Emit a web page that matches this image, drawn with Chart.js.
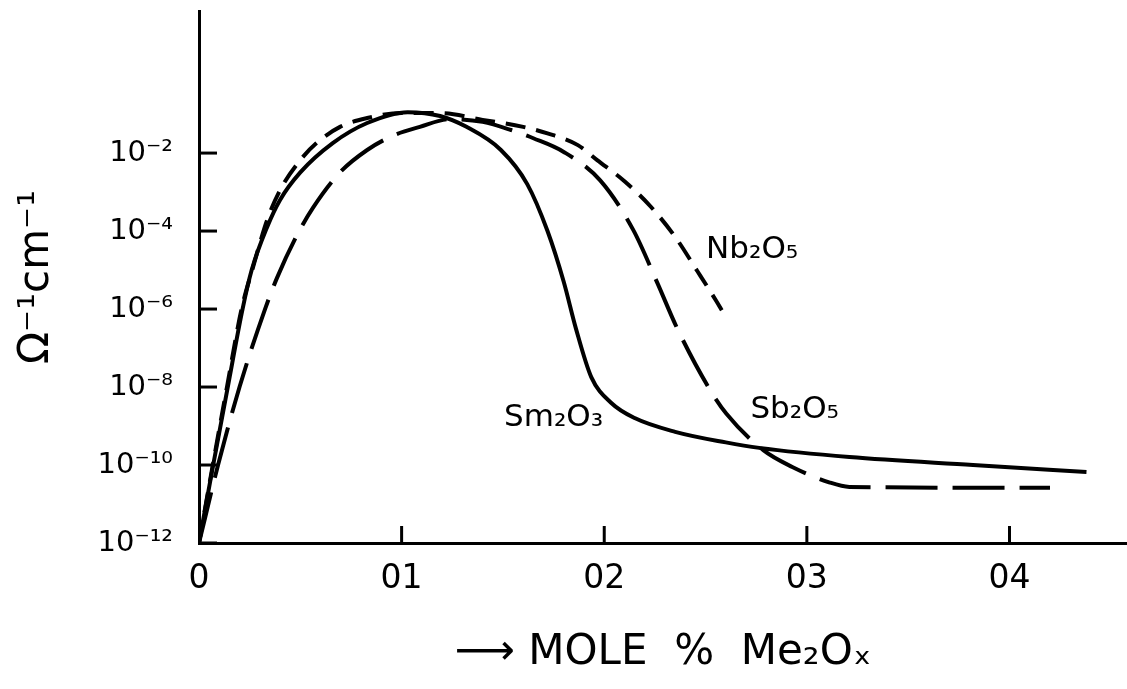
<!DOCTYPE html>
<html>
<head>
<meta charset="utf-8">
<script src="https://cdn.jsdelivr.net/npm/chart.js@4"></script>
<style>
  body { margin: 0; background: #fff; }
  #wrap { width: 1127px; height: 689px; }
</style>
</head>
<body>
<div id="wrap"><canvas id="chart"></canvas></div>
<script>
// axis ticks
const xTickValues = [0, 0.1, 0.2, 0.3, 0.4];
const xTickLabels = ['0', '01', '02', '03', '04'];
const yTickValues = [1e-12, 1e-10, 1e-8, 1e-6, 1e-4, 1e-2];
const yTickLabels = ['10⁻¹²', '10⁻¹⁰', '10⁻⁸', '10⁻⁶', '10⁻⁴', '10⁻²'];

// Sm2O3 (solid)
const smX = [0, 0.007, 0.0142, 0.0215, 0.026, 0.0336, 0.040, 0.050, 0.066, 0.083, 0.103, 0.119, 0.132,
  0.149, 0.162, 0.172, 0.180, 0.186, 0.1936, 0.2035, 0.215, 0.235, 0.260, 0.2765, 0.321, 0.382, 0.438];
const smY = [1e-12, 1e-10, 1e-8, 1e-6, 1.0e-5, 1.26e-4, 6.3e-4, 3.2e-3, 1.8e-2, 5.9e-2, 0.112, 0.089, 0.047,
  0.012, 1.6e-3, 1e-4, 5.0e-6, 3.2e-7, 1.8e-8, 3.9e-9, 1.6e-9, 7.1e-10, 3.8e-10, 2.75e-10, 1.6e-10, 1.0e-10, 6.6e-11];

// Nb2O5 (short dashes)
const nbX = [0, 0.0068, 0.0138, 0.021, 0.0267, 0.0336, 0.040, 0.050, 0.058, 0.0696, 0.083, 0.100, 0.120,
  0.140, 0.160, 0.172, 0.187, 0.1965, 0.210, 0.223, 0.235, 0.246, 0.255, 0.258];
const nbY = [1e-12, 1e-10, 1e-8, 1e-6, 1.2e-5, 1.9e-4, 1.12e-3, 6.6e-3, 1.8e-2, 4.7e-2, 7.9e-2, 0.107, 0.105,
  0.071, 0.047, 0.032, 0.016, 6.6e-3, 1.9e-3, 4.2e-4, 7.1e-5, 9.3e-6, 1.7e-6, 9.3e-7];

// Sb2O5 (long dashes)
const sbX = [0, 0.0094, 0.020, 0.0326, 0.0385, 0.0484, 0.0563, 0.0696, 0.083, 0.0958, 0.109, 0.124, 0.140,
  0.154, 0.165, 0.180, 0.198, 0.2143, 0.2262, 0.236, 0.2523, 0.2602, 0.2785, 0.2928, 0.311, 0.321, 0.42];
const sbY = [1e-12, 1e-10, 1e-8, 1e-6, 6.3e-6, 7.9e-5, 4.0e-4, 3.2e-3, 0.012, 0.028, 0.047, 0.074, 0.063,
  0.039, 0.024, 0.0107, 2.0e-3, 1.07e-4, 4.7e-6, 3.2e-7, 8.3e-9, 2.1e-9, 2.4e-10, 8.9e-11, 3.6e-11, 2.75e-11, 2.6e-11];

// curve labels, in data units
const curveLabels = [
  { text: 'Nb₂O₅', x: 0.273, y: 3.2e-5 },
  { text: 'Sb₂O₅', x: 0.294, y: 2.6e-9 },
  { text: 'Sm₂O₃', x: 0.175, y: 1.6e-9 }
];

const toPoints = (xs, ys) => xs.map((x, i) => ({ x, y: ys[i] }));

Chart.defaults.font.family = '"DejaVu Sans", sans-serif';
Chart.defaults.color = '#000';

// tick marks drawn inward from the axes
const innerTicks = {
  id: 'innerTicks',
  afterDatasetsDraw(chart) {
    const { ctx, chartArea, scales: { x, y } } = chart;
    ctx.save();
    ctx.strokeStyle = '#000';
    ctx.lineWidth = 3;
    y.ticks.forEach(t => {
      const py = y.getPixelForValue(t.value);
      ctx.beginPath();
      ctx.moveTo(chartArea.left, py);
      ctx.lineTo(chartArea.left + 18, py);
      ctx.stroke();
    });
    x.ticks.forEach(t => {
      if (t.value === 0) return;
      const px = x.getPixelForValue(t.value);
      ctx.beginPath();
      ctx.moveTo(px, chartArea.bottom);
      ctx.lineTo(px, chartArea.bottom - 17);
      ctx.stroke();
    });
    ctx.restore();
  }
};

const curveText = {
  id: 'curveText',
  afterDatasetsDraw(chart) {
    const { ctx, scales: { x, y } } = chart;
    ctx.save();
    ctx.font = '31px "DejaVu Sans"';
    ctx.fillStyle = '#000';
    ctx.textAlign = 'center';
    ctx.textBaseline = 'middle';
    curveLabels.forEach(l => {
      ctx.fillText(l.text, x.getPixelForValue(l.x), y.getPixelForValue(l.y));
    });
    ctx.restore();
  }
};

const lineStyle = { pointRadius: 0, borderColor: '#000', fill: false, cubicInterpolationMode: 'monotone' };

new Chart(document.getElementById('chart'), {
  type: 'line',
  data: {
    datasets: [
      { label: 'Sm2O3', data: toPoints(smX, smY), borderWidth: 4, ...lineStyle },
      { label: 'Nb2O5', data: toPoints(nbX, nbY), borderWidth: 4, borderDash: [20, 11], ...lineStyle },
      { label: 'Sb2O5', data: toPoints(sbX, sbY), borderWidth: 4, borderDash: [52, 15], ...lineStyle }
    ]
  },
  options: {
    responsive: true,
    maintainAspectRatio: false,
    animation: false,
    layout: { padding: { top: 11, right: 0, left: 0, bottom: 0 } },
    plugins: { legend: { display: false }, tooltip: { enabled: false } },
    scales: {
      x: {
        type: 'linear',
        min: 0,
        max: 0.458,
        grid: { display: false },
        border: { display: true, color: '#000', width: 3 },
        afterBuildTicks: s => { s.ticks = xTickValues.map(v => ({ value: v })); },
        afterFit: s => { s.height = 146; s.paddingLeft = 0; s.paddingRight = 0; },
        ticks: {
          autoSkip: false,
          maxRotation: 0,
          padding: 9,
          font: { size: 33 },
          callback: (v, i) => xTickLabels[i]
        },
        title: {
          display: true,
          text: '⟶ MOLE  %  Me₂Oₓ',
          font: { size: 42 },
          padding: { top: 11, bottom: 11 }
        }
      },
      y: {
        type: 'logarithmic',
        min: 1e-12,
        max: 44,
        grid: { display: false },
        border: { display: true, color: '#000', width: 3 },
        afterBuildTicks: s => { s.ticks = yTickValues.map(v => ({ value: v })); },
        afterFit: s => { s.width = 199; s.paddingTop = 0; s.paddingBottom = 0; },
        ticks: {
          autoSkip: false,
          padding: 18,
          font: { size: 29 },
          callback: (v, i) => yTickLabels[i]
        },
        title: {
          display: true,
          text: 'Ω⁻¹cm⁻¹',
          font: { size: 42 },
          padding: { top: 12, bottom: 12 }
        }
      }
    }
  },
  plugins: [innerTicks, curveText]
});
</script>
</body>
</html>
